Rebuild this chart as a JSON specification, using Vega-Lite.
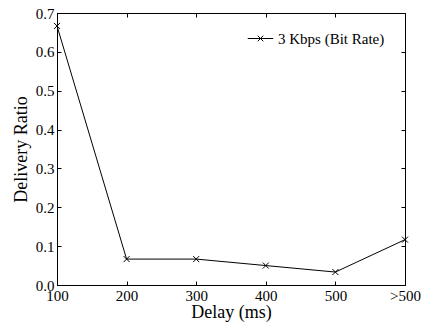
{
  "$schema": "https://vega.github.io/schema/vega-lite/v6.json",
  "autosize": "none",
  "width": 348,
  "height": 272,
  "padding": {"left": 57, "top": 13, "right": 16, "bottom": 40},
  "background": "white",
  "config": {
    "view": {"stroke": "black", "strokeWidth": 1},
    "font": "Liberation Serif",
    "axis": {
      "grid": false,
      "domainColor": "black",
      "tickColor": "black",
      "labelColor": "black",
      "titleColor": "black",
      "labelFont": "Liberation Serif",
      "titleFont": "Liberation Serif",
      "labelFontSize": 15,
      "titleFontSize": 18,
      "titleFontWeight": "normal",
      "tickSize": -4,
      "labelPadding": 7
    }
  },
  "data": {
    "values": [
      {"delay": "100", "ratio": 0.6667, "series": "3 Kbps (Bit Rate)"},
      {"delay": "200", "ratio": 0.0667, "series": "3 Kbps (Bit Rate)"},
      {"delay": "300", "ratio": 0.0667, "series": "3 Kbps (Bit Rate)"},
      {"delay": "400", "ratio": 0.05, "series": "3 Kbps (Bit Rate)"},
      {"delay": "500", "ratio": 0.0333, "series": "3 Kbps (Bit Rate)"},
      {"delay": ">500", "ratio": 0.1167, "series": "3 Kbps (Bit Rate)"}
    ]
  },
  "layer": [
    {
      "mark": {"type": "line", "strokeWidth": 1},
      "encoding": {
        "x": {"field": "delay", "type": "ordinal", "sort": null,
              "scale": {"type": "point", "padding": 0},
              "axis": {"title": "Delay (ms)", "labelAngle": 0, "titlePadding": 0, "labelPadding": 7}},
        "y": {"field": "ratio", "type": "quantitative",
              "scale": {"domain": [0, 0.7], "nice": false},
              "axis": {"title": "Delivery Ratio", "values": [0, 0.1, 0.2, 0.3, 0.4, 0.5, 0.6, 0.7], "titlePadding": 5}},
        "color": {"field": "series", "type": "nominal",
                  "scale": {"range": ["black"]},
                  "legend": {
                    "title": null,
                    "orient": "none",
                    "legendX": 190,
                    "legendY": 12,
                    "labelFontSize": 15,
                    "labelFont": "Liberation Serif",
                    "labelColor": "black",
                    "labelOffset": 4,
                    "symbolType": "M-1,0H1M-0.22,-0.22L0.22,0.22M-0.22,0.22L0.22,-0.22",
                    "symbolSize": 650,
                    "symbolStrokeWidth": 1,
                    "symbolFillColor": "transparent",
                    "symbolStrokeColor": "black",
                    "padding": 0
                  }}
      }
    },
    {
      "mark": {"type": "point", "shape": "M-1,-1L1,1M-1,1L1,-1", "size": 36, "filled": false, "stroke": "black", "strokeWidth": 1, "opacity": 1},
      "encoding": {
        "x": {"field": "delay", "type": "ordinal", "sort": null,
              "scale": {"type": "point", "padding": 0},
              "axis": {"orient": "top", "labels": false, "title": null, "domain": false}},
        "y": {"field": "ratio", "type": "quantitative",
              "scale": {"domain": [0, 0.7], "nice": false},
              "axis": {"orient": "right", "labels": false, "title": null, "domain": false, "values": [0, 0.1, 0.2, 0.3, 0.4, 0.5, 0.6, 0.7]}}
      }
    }
  ],
  "resolve": {"axis": {"x": "independent", "y": "independent"}}
}
